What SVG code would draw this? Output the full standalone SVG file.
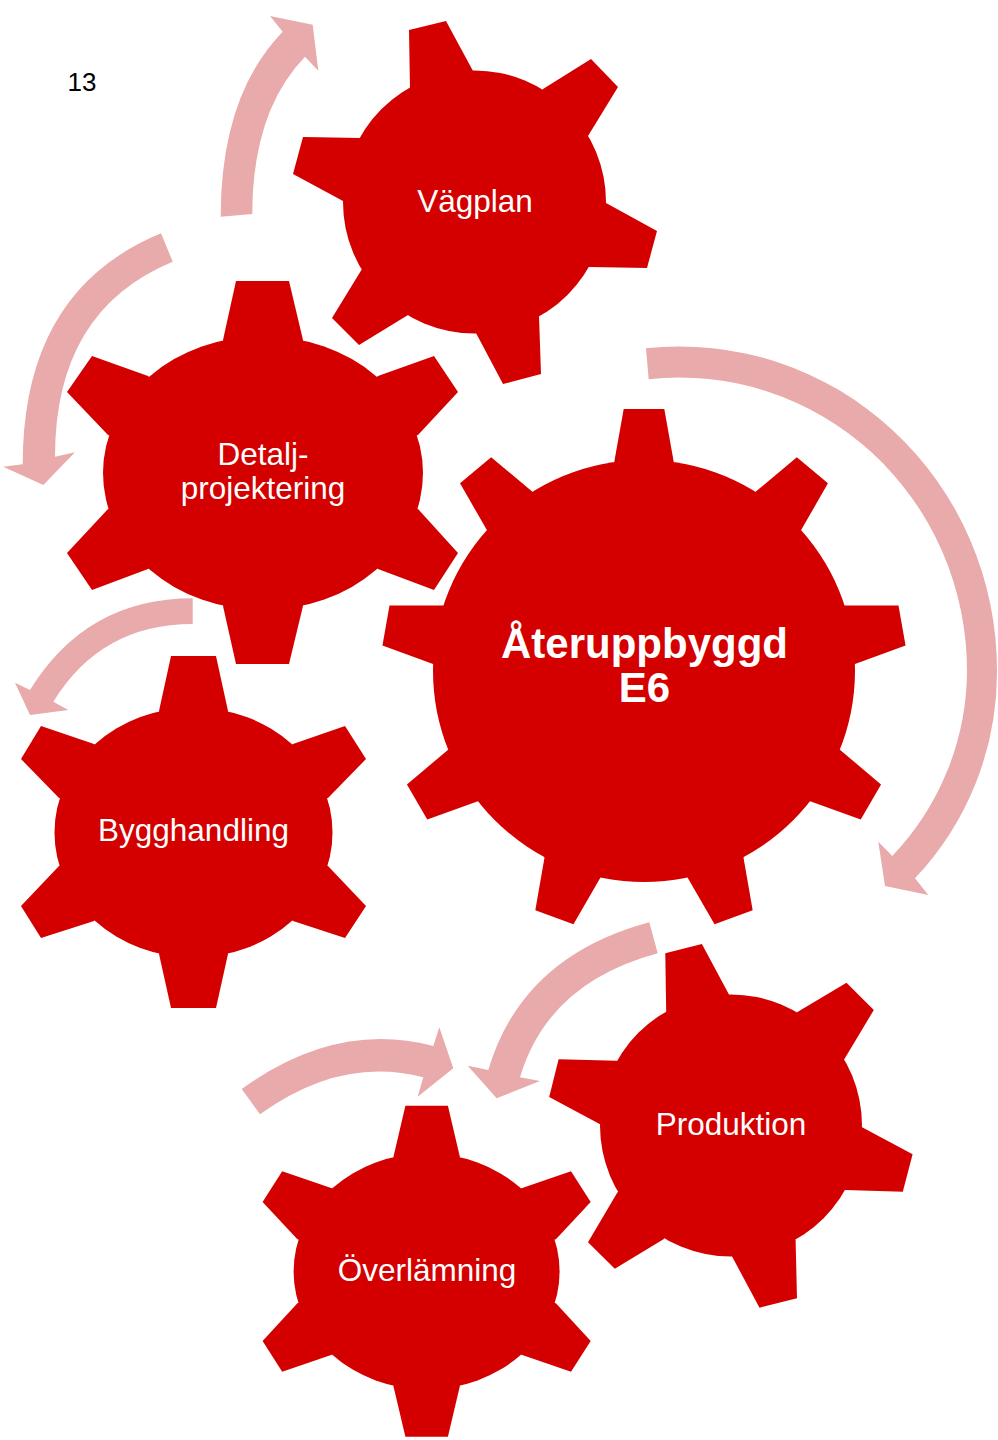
<svg xmlns="http://www.w3.org/2000/svg" xmlns:xlink="http://www.w3.org/1999/xlink" width="998" height="1440" viewBox="0 0 998 1440">
<style>
.gear{fill:#D40000;stroke:none}
.arrow{fill:#E8AAAA;stroke:none}
.lbl{font-family:"Liberation Sans",Arial,sans-serif;fill:#FFFFFF;text-anchor:middle;font-size:31.5px}
.big{font-family:"Liberation Sans",Arial,sans-serif;fill:#FFFFFF;text-anchor:middle;font-size:42px;font-weight:bold}
.num{font-family:"Liberation Sans",Arial,sans-serif;fill:#000000;font-size:26px}
</style>
<defs>
<polygon id="bigtooth" points="614.25,462 623.7,409 664.3,409 673.75,462 644,671"/>
</defs>
<rect width="998" height="1440" fill="#FFFFFF"/>
<text class="num" x="67.5" y="91">13</text>
<g id="connectors">
<path class="arrow" d="M220.7,216.7 Q220.7,95.8 282.7,31.7 L270,16 L312.7,24.7 L318.3,70.7 L305,56.7 Q252.3,111.2 252.3,214 Z"/>
<path class="arrow" d="M161,233.3 Q22.7,290.3 22.7,464.3 L3.3,466.7 L43.3,485 L75,452.3 L55,456.7 Q55,310.2 172.7,261.7 Z"/>
<path class="arrow" d="M192.7,598.3 Q86.5,598.3 30,690 L15,682.7 L30,715 L68.3,710 L53.3,701.7 Q101.1,624 192.7,624 Z"/>
<path class="arrow" d="M646,348.3 A317 324 0 0 1 997,672 A300 300 0 0 1 915,878.3 L928.3,895 L885,886 L878.3,841.7 L892.3,856 A270 270 0 0 0 967,672 A287 293 0 0 0 648.7,379.3 Z"/>
<path class="arrow" d="M649.3,922.3 Q522,956.5 488.3,1070 L467.7,1065.7 L496.7,1098.3 L540,1081 L520,1077.3 Q548.1,982.8 657.7,953.3 Z"/>
<path class="arrow" d="M241.7,1089 Q336.4,1020.4 433.3,1046 L439.3,1027.3 L453.3,1068.3 L417.7,1096.7 L423.3,1077.3 Q341.1,1055.6 260,1114.3 Z"/>
</g>
<g id="vagplan" class="gear">
<circle cx="474.5" cy="202" r="131.5"/>
<polygon points="410,89 409,30 446,21 473,71 474.5,202"/>
<polygon points="543,89 591,59 618,87 588,136 474.5,202"/>
<polygon points="606,203 657,231 647,268 589,267 474.5,202"/>
<polygon points="539,316 541,374 503,384 476,333 474.5,202"/>
<polygon points="408,315 359,345 332,318 362,269 474.5,202"/>
<polygon points="343,201 293,174 303,137 361,138 474.5,202"/>
<text class="lbl" x="475" y="212">Vägplan</text>
</g>
<g id="detaljprojektering" class="gear">
<ellipse cx="263" cy="473" rx="160" ry="137"/>
<polygon points="223,340 236,281 289,281 303,340 263,473"/>
<polygon points="378,376 434,356 458,392 418,435 263,473"/>
<polygon points="418,509 458,553 434,590 378,569 263,473"/>
<polygon points="303,606 289,664 236,664 223,606 263,473"/>
<polygon points="148,569 92,590 67,553 108,509 263,473"/>
<polygon points="108,435 67,392 92,356 148,376 263,473"/>
<text class="lbl" x="263" y="465">Detalj-</text>
<text class="lbl" x="263" y="499">projektering</text>
</g>
<g id="bygghandling" class="gear">
<ellipse cx="193.5" cy="832.5" rx="139" ry="125"/>
<polygon points="159,711 171,656 216,656 228,711 193.5,832.5"/>
<polygon points="293,744 345,726 366,759 328,798 193.5,832.5"/>
<polygon points="328,866 366,906 345,938 293,921 193.5,832.5"/>
<polygon points="228,954 216,1008 171,1008 159,954 193.5,832.5"/>
<polygon points="94,921 41,938 21,906 59,866 193.5,832.5"/>
<polygon points="59,798 21,759 41,726 94,744 193.5,832.5"/>
<text class="lbl" x="193.5" y="841">Bygghandling</text>
</g>
<g id="aterupp" class="gear">
<circle cx="644" cy="671" r="211"/>
<use xlink:href="#bigtooth"/>
<use xlink:href="#bigtooth" transform="rotate(40 644 671)"/>
<use xlink:href="#bigtooth" transform="rotate(80 644 671)"/>
<use xlink:href="#bigtooth" transform="rotate(120 644 671)"/>
<use xlink:href="#bigtooth" transform="rotate(160 644 671)"/>
<use xlink:href="#bigtooth" transform="rotate(200 644 671)"/>
<use xlink:href="#bigtooth" transform="rotate(240 644 671)"/>
<use xlink:href="#bigtooth" transform="rotate(280 644 671)"/>
<use xlink:href="#bigtooth" transform="rotate(320 644 671)"/>
<text class="big" x="644.5" y="657.5">Återuppbyggd</text>
<text class="big" x="644.5" y="701.5">E6</text>
</g>
<g id="produktion" class="gear">
<circle cx="731" cy="1125.5" r="131"/>
<polygon points="666.2,1011.7 665.3,953.3 701.9,944 729.1,994.7 731,1125.5"/>
<polygon points="797,1012.3 846.5,982.7 873.8,1010 844.3,1059.3 731,1125.5"/>
<polygon points="862.1,1127.3 912.6,1154.3 902.8,1191.7 845.2,1190 731,1125.5"/>
<polygon points="795.6,1240 797,1298.3 759.5,1307.7 732.2,1256.7 731,1125.5"/>
<polygon points="663.9,1239 614.8,1268.7 588,1242.3 617.5,1192.3 731,1125.5"/>
<polygon points="599.6,1124 549.2,1097 558.6,1059.3 616.6,1060.7 731,1125.5"/>
<text class="lbl" x="731" y="1135">Produktion</text>
</g>
<g id="overlamning" class="gear">
<ellipse cx="426.6" cy="1271.5" rx="133" ry="118"/>
<polygon points="393.4,1157 405.4,1105.7 447.9,1105.7 459.9,1157 426.6,1271.5"/>
<polygon points="521.5,1188.3 571,1171.3 590.7,1202 555.9,1239.3 426.6,1271.5"/>
<polygon points="555.9,1303.3 590.7,1341 571,1371.7 521.5,1354.7 426.6,1271.5"/>
<polygon points="459.9,1386 447.9,1436.7 405.4,1436.7 393.4,1386 426.6,1271.5"/>
<polygon points="331.8,1354.7 282.2,1371.7 262.6,1341 297.4,1303.3 426.6,1271.5"/>
<polygon points="297.4,1239.3 262.6,1202 282.2,1171.3 331.8,1188.3 426.6,1271.5"/>
<text class="lbl" x="427" y="1281">Överlämning</text>
</g>
</svg>
